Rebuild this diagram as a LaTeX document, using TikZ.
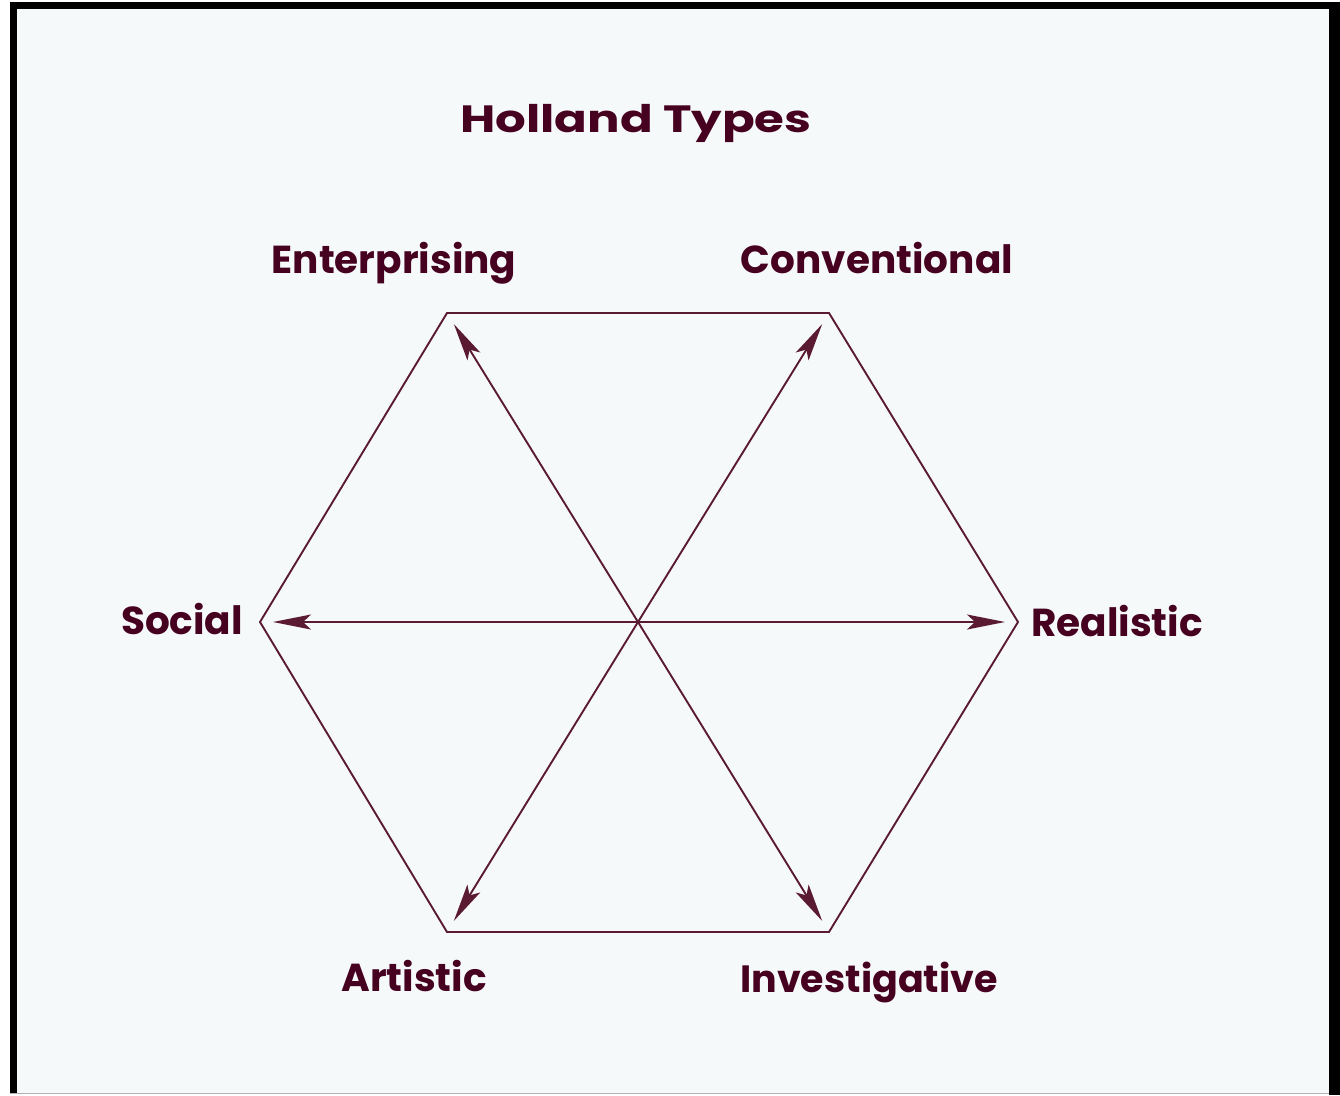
\documentclass[tikz,border=0pt]{standalone}
\usepackage{fontspec}
\usepackage{graphicx}
\setmainfont{Poppins}
\usetikzlibrary{arrows.meta}
\definecolor{bgc}{HTML}{F6F9FA}
\definecolor{linec}{HTML}{5A1A32}
\definecolor{textc}{HTML}{460020}
\tikzset{
  lbl/.style={font=\fontsize{39}{44}\selectfont\bfseries, text=textc, inner sep=0pt, anchor=base},
  hexline/.style={draw=linec, line width=1.9pt},
  arr/.style={draw=linec, line width=1.9pt, -{Stealth[length=38pt,width=15pt,inset=8pt]}, shorten >=13pt}
}
\begin{document}
\begin{tikzpicture}[x=1pt,y=-1pt]
\useasboundingbox (0,0) rectangle (1340,1095);
\fill[white] (0,0) rectangle (1340,1095);
\fill[bgc] (17,9) rectangle (1329,1093);
\fill[black] (10,2) rectangle (17,1093);
\fill[black] (10,2) rectangle (1340,9);
\fill[black] (1329,2) rectangle (1340,1095);
\draw[gray!60, line width=1pt] (10,1093.5) -- (1329,1093.5);
\coordinate (c) at (638,622);
\coordinate (tl) at (447,313);
\coordinate (tr) at (829,313);
\coordinate (r) at (1018,622);
\coordinate (br) at (829,932);
\coordinate (bl) at (447,932);
\coordinate (l) at (260,622);
\draw[hexline, line join=miter] (tl) -- (tr) -- (r) -- (br) -- (bl) -- (l) -- cycle;
\foreach \v in {tl,tr,r,br,bl,l} \draw[arr] (c) -- (\v);
\node[lbl, font=\fontsize{38}{44}\selectfont\bfseries] (title) at (636,132) {\scalebox{1.27}[1]{Holland Types}};
\node[lbl] (ent) at (394,273) {Enterprising};
\node[lbl] (con) at (877,273) {Conventional};
\node[lbl] (soc) at (182,634) {Social};
\node[lbl] (rea) at (1117,636) {Realistic};
\node[lbl] (art) at (414,991) {Artistic};
\node[lbl, font=\fontsize{38}{44}\selectfont\bfseries] (inv) at (869,992) {Investigative};
\end{tikzpicture}
\end{document}
